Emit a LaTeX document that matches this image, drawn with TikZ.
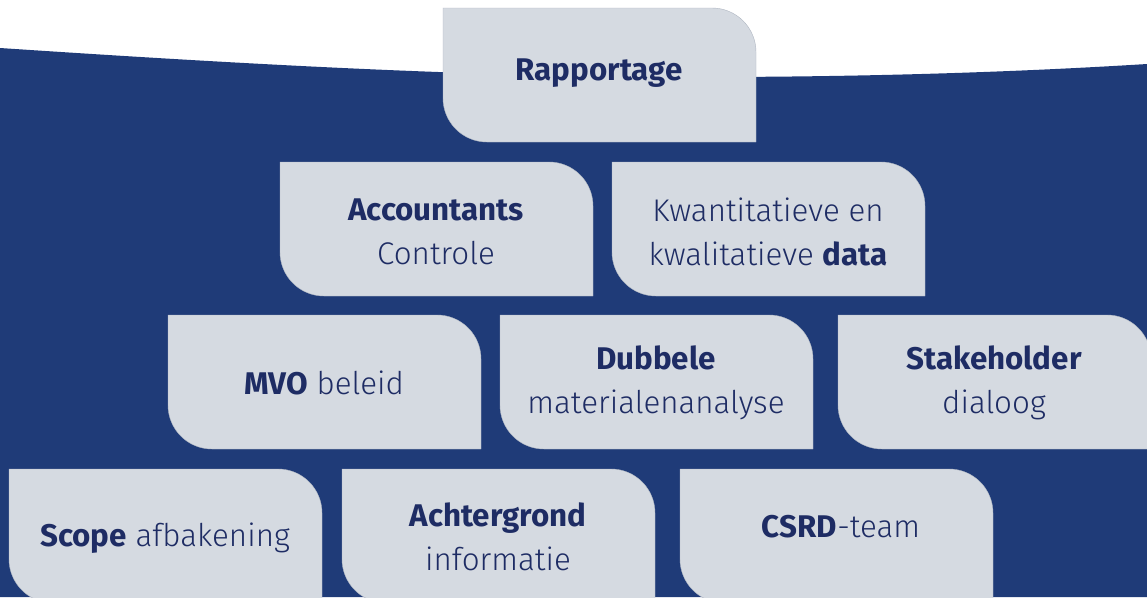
\documentclass[tikz,border=0pt]{standalone}
\usepackage{fontspec}
\setmainfont{Fira Sans Light}[BoldFont={Fira Sans Bold}]
\definecolor{nachtblauw}{RGB}{31,59,120}
\definecolor{tegelgrijs}{RGB}{213,218,225}
\definecolor{tegelrand}{RGB}{176,183,194}
\definecolor{inktblauw}{RGB}{30,44,100}

\begin{document}
\begin{tikzpicture}[x=0.75pt,y=0.75pt,yscale=-1,xscale=1,
  tegel/.style={fill=tegelgrijs, draw=tegelrand, line width=0.3pt},
  tegeltekst/.style={text=inktblauw, align=center, inner sep=0pt,
    font=\fontsize{23.5}{33}\selectfont}]
\useasboundingbox (0,0) rectangle (1147,597);
\clip (0,0) rectangle (1147,597);

%Shape: Background
\fill [white] (0,0) rectangle (1147,597);
\fill [nachtblauw] (0,48) .. controls (300,68) and (500,77) .. (700,77) .. controls (900,77) and (1050,70) .. (1147,64) -- (1147,597) -- (0,597) -- cycle ;

%Shape: Tegel [rij 1]
\draw [tegel] (443,8) -- (712,8) .. controls (736.3,8) and (756,27.7) .. (756,52) -- (756,142) -- (487,142) .. controls (462.7,142) and (443,122.3) .. (443,98) -- cycle ;

%Shape: Tegel [rij 2]
\draw [tegel] (280,162) -- (549,162) .. controls (573.3,162) and (593,181.7) .. (593,206) -- (593,296) -- (324,296) .. controls (299.7,296) and (280,276.3) .. (280,252) -- cycle ;
\draw [tegel] (612,162) -- (881,162) .. controls (905.3,162) and (925,181.7) .. (925,206) -- (925,296) -- (656,296) .. controls (631.7,296) and (612,276.3) .. (612,252) -- cycle ;

%Shape: Tegel [rij 3]
\draw [tegel] (168,315) -- (437,315) .. controls (461.3,315) and (481,334.7) .. (481,359) -- (481,449) -- (212,449) .. controls (187.7,449) and (168,429.3) .. (168,405) -- cycle ;
\draw [tegel] (500,315) -- (769,315) .. controls (793.3,315) and (813,334.7) .. (813,359) -- (813,449) -- (544,449) .. controls (519.7,449) and (500,429.3) .. (500,405) -- cycle ;
\draw [tegel] (838,315) -- (1107,315) .. controls (1131.3,315) and (1151,334.7) .. (1151,359) -- (1151,449) -- (882,449) .. controls (857.7,449) and (838,429.3) .. (838,405) -- cycle ;

%Shape: Tegel [rij 4]
\draw [tegel] (9,469) -- (278,469) .. controls (302.3,469) and (322,488.7) .. (322,513) -- (322,603) -- (53,603) .. controls (28.7,603) and (9,583.3) .. (9,559) -- cycle ;
\draw [tegel] (342,469) -- (611,469) .. controls (635.3,469) and (655,488.7) .. (655,513) -- (655,603) -- (386,603) .. controls (361.7,603) and (342,583.3) .. (342,559) -- cycle ;
\draw [tegel] (680,469) -- (949,469) .. controls (973.3,469) and (993,488.7) .. (993,513) -- (993,603) -- (724,603) .. controls (699.7,603) and (680,583.3) .. (680,559) -- cycle ;

% Text Node
\draw (599,73) node [tegeltekst] (rapportage) {\textbf{Rapportage}};
% Text Node
\draw (436,232) node [tegeltekst] (accountants) {\textbf{Accountants}\\Controle};
% Text Node
\draw (768,232) node [tegeltekst] (data) {Kwantitatieve en\\kwalitatieve \textbf{data}};
% Text Node
\draw (324,383) node [tegeltekst] (mvo) {\textbf{MVO} beleid};
% Text Node
\draw (656,383) node [tegeltekst] (dubbele) {\textbf{Dubbele}\\materialenanalyse};
% Text Node
\draw (994,383) node [tegeltekst] (stakeholder) {\textbf{Stakeholder}\\dialoog};
% Text Node
\draw (165,538) node [tegeltekst] (scope) {\textbf{Scope} afbakening};
% Text Node
\draw (498,537) node [tegeltekst] (achtergrond) {\textbf{Achtergrond}\\informatie};
% Text Node
\draw (841,527) node [tegeltekst] (csrd) {\textbf{CSRD}-team};

\end{tikzpicture}
\end{document}
